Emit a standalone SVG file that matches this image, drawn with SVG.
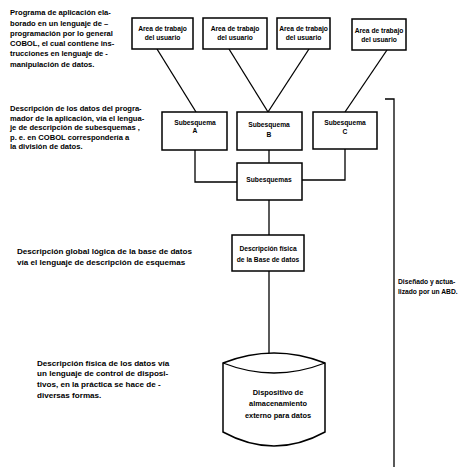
<svg xmlns="http://www.w3.org/2000/svg" width="461" height="474" viewBox="0 0 461 474">
<style>
.bg{fill:#ffffff}
.box{fill:#ffffff;stroke:#000;stroke-width:1.5}
.ln{fill:none;stroke:#000;stroke-width:1.3}
.t{font-family:"Liberation Sans",Arial,sans-serif;font-weight:bold;fill:#000}
.l{font-size:7.6px}
.l8{font-size:8.1px}
.b{font-size:6.7px;text-anchor:middle}
</style>
<rect class="bg" x="0" y="0" width="461" height="474"/>
<g id="connectors">
<line class="ln" x1="157" y1="49" x2="196" y2="112"/>
<line class="ln" x1="229" y1="49" x2="268" y2="112"/>
<line class="ln" x1="309" y1="49" x2="268" y2="112"/>
<line class="ln" x1="387" y1="50" x2="345" y2="112"/>
<line class="ln" x1="269" y1="150" x2="269" y2="163"/>
<polyline class="ln" points="195,150 195,182 237,182"/>
<polyline class="ln" points="345,149 345,180 302,180" stroke-width="1"/>
<line class="ln" x1="269" y1="200" x2="269" y2="235"/>
<line class="ln" x1="269" y1="271" x2="269" y2="354"/>
<polyline class="ln" points="385,99 394,99 394,467"/>
</g>
<g id="text-programa">
<text class="t l" x="10" y="15">Programa de aplicación ela-</text>
<text class="t l" x="10" y="25.5">borado en un lenguaje de –</text>
<text class="t l" x="10" y="36">programación por lo general</text>
<text class="t l" x="10" y="46">COBOL, el cual contiene ins-</text>
<text class="t l" x="10" y="56">trucciones en lenguaje de -</text>
<text class="t l" x="10" y="66.5">manipulación de datos.</text>
</g>
<g id="area1"><rect class="box" x="132" y="18" width="61" height="31"/>
<text class="t b" x="162.5" y="31">Area de trabajo</text><text class="t b" x="162.5" y="40">del usuario</text></g>
<g id="area2"><rect class="box" x="203" y="18" width="64" height="31"/>
<text class="t b" x="235" y="31">Area de trabajo</text><text class="t b" x="235" y="40">del usuario</text></g>
<g id="area3"><rect class="box" x="277" y="18" width="53" height="31"/>
<text class="t b" x="303.5" y="31">Area de trabajo</text><text class="t b" x="303.5" y="40">del usuario</text></g>
<g id="area4"><rect class="box" x="352" y="19" width="54" height="31"/>
<text class="t b" x="379" y="33">Area de trabajo</text><text class="t b" x="379" y="42">del usuario</text></g>
<g id="text-subesquemas">
<text class="t l" x="10" y="111">Descripción de los datos del progra-</text>
<text class="t l" x="10" y="120.5">mador de la aplicación, vía el lengua-</text>
<text class="t l" x="10" y="130">je de descripción de subesquemas ,</text>
<text class="t l" x="10" y="139.5">p. e. en COBOL correspondería a</text>
<text class="t l" x="10" y="149">la división de datos.</text>
</g>
<g id="subA"><rect class="box" x="162" y="112" width="65" height="38"/>
<text class="t b" x="195" y="125">Subesquema</text><text class="t b" x="195" y="133">A</text></g>
<g id="subB"><rect class="box" x="237" y="112" width="65" height="38"/>
<text class="t b" x="269" y="127">Subesquema</text><text class="t b" x="269" y="137">B</text></g>
<g id="subC"><rect class="box" x="313" y="112" width="64" height="37"/>
<text class="t b" x="345" y="125">Subesquema</text><text class="t b" x="345" y="134">C</text></g>
<g id="subs"><rect class="box" x="237" y="163" width="65" height="37"/>
<text class="t b" x="269" y="182">Subesquemas</text></g>
<g id="text-global">
<text class="t l8" x="17" y="254">Descripción global lógica de la base de datos</text>
<text class="t l8" x="17" y="265">vía el lenguaje de descripción de esquemas</text>
</g>
<g id="fisica"><rect class="box" x="232" y="235" width="72" height="36"/>
<text class="t b" x="268" y="251">Descripción física</text><text class="t b" x="268" y="262">de la Base de datos</text></g>
<g id="text-abd">
<text class="t b" x="398" y="284" style="text-anchor:start">Diseñado y actua-</text>
<text class="t b" x="398" y="294" style="text-anchor:start">lizado por un ABD.</text>
</g>
<g id="text-fisica">
<text class="t l8" x="37" y="366">Descripción física de los datos vía</text>
<text class="t l8" x="37" y="376">un lenguaje de control de disposi-</text>
<text class="t l8" x="37" y="386.5">tivos, en la práctica se hace  de -</text>
<text class="t l8" x="37" y="398">diversas  formas.</text>
</g>
<g id="dispositivo">
<path class="box" d="M223,363 Q274,343 325,363 L325,432 Q274,460 223,432 Z"/>
<path class="ln" d="M223,363 Q274,383 325,363"/>
<text class="t b" x="278" y="395" style="font-size:7.4px">Dispositivo de</text>
<text class="t b" x="278" y="405.5" style="font-size:7.4px">almacenamiento</text>
<text class="t b" x="278" y="418" style="font-size:7.4px">externo para datos</text>
</g>
</svg>
